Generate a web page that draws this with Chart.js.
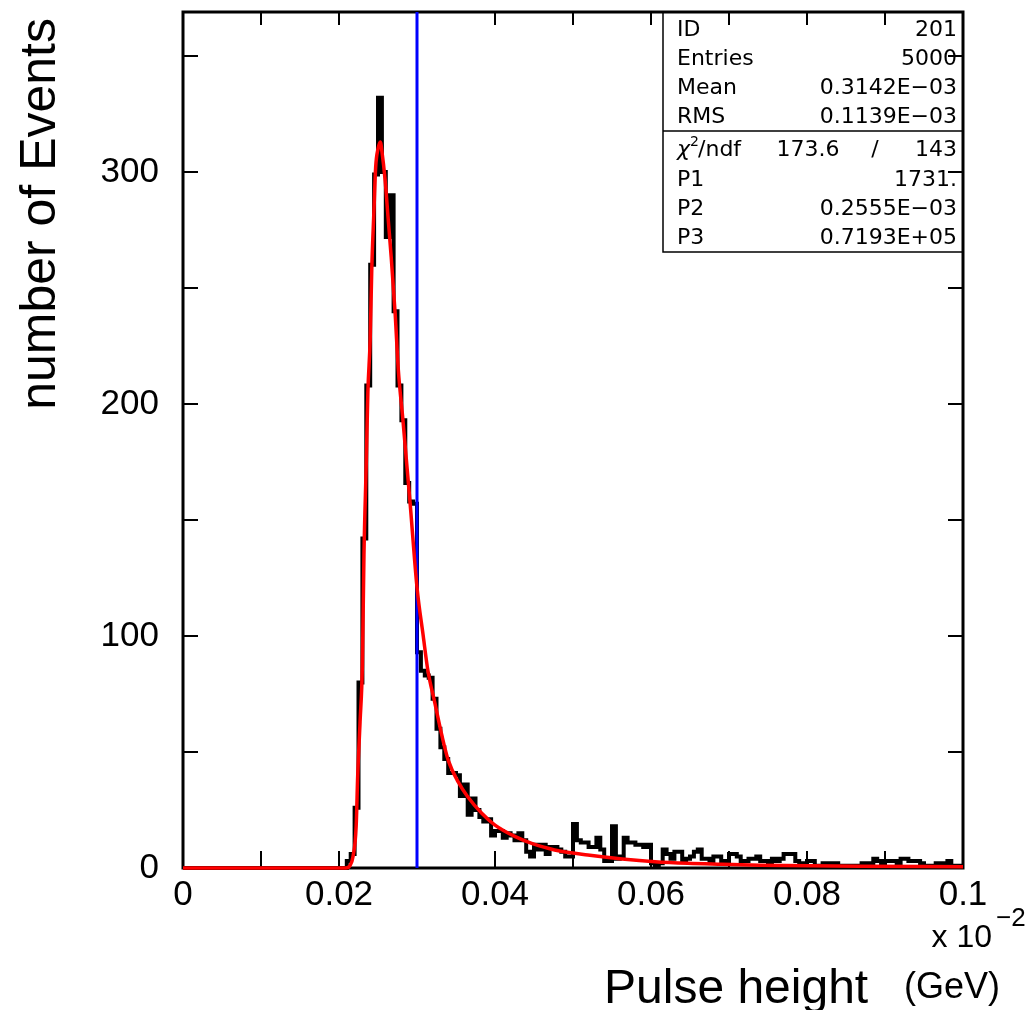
<!DOCTYPE html>
<html>
<head>
<meta charset="utf-8">
<script src="https://cdn.jsdelivr.net/npm/chart.js@4.4.1/dist/chart.umd.min.js"></script>
<style>
body{margin:0;background:#fff}
#wrap{width:1029px;height:1010px}
</style>
</head>
<body>
<div id="wrap"><canvas id="mycanvas" width="1029" height="1010"></canvas></div>
<script>
// histogram ID 201 : 200 bins from 0 to 0.1 (x 10^-2 GeV)
const binWidth = 0.0005;
const counts = [
  0,0,0,0,0,0,0,0,0,0, 0,0,0,0,0,0,0,0,0,0,
  0,0,0,0,0,0,0,0,0,0, 0,0,0,0,0,0,0,0,0,0,
  0,0,3,6,26,80,142,208,260,299,
  332,300,272,290,240,208,193,166,158,157,
  93,85,83,82,73,60,52,47,41,41,
  40,31,36,23,30,25,22,20,21,14,
  16,16,13,15,14,12,15,12,7,5,
  10,8,10,6,9,9,8,7,5,5,
  19,12,11,11,9,9,13,8,3,3,
  18,4,5,13,11,11,10,10,9,10,
  2,1,2,8,6,4,7,7,3,4,
  5,7,8,4,4,3,5,5,3,3,
  6,6,5,3,3,4,4,5,3,3,
  2,4,3,4,6,6,6,3,2,2,
  3,3,1,1,2,2,2,2,1,1,
  1,1,1,1,2,2,2,4,3,2,
  3,3,3,2,4,4,3,3,3,2,
  1,1,1,2,2,2,3,1,1,1
];

// fitted curve
const fitX = [0, 0.0209, 0.0214, 0.0218, 0.0222, 0.0224, 0.0227, 0.0230, 0.0232, 0.0235, 0.0237,
  0.0240, 0.0242, 0.0245, 0.0247, 0.0250, 0.0253, 0.0255, 0.0259, 0.0263, 0.0267, 0.0272,
  0.0276, 0.0282, 0.0291, 0.0300, 0.0308, 0.0314, 0.0323, 0.0332, 0.0340, 0.0353, 0.0365,
  0.0383, 0.0400, 0.0426, 0.0447, 0.0468, 0.0483, 0.0519, 0.0563, 0.0605, 0.0647, 0.0691,
  0.0740, 0.0868, 0.1000];
const fitY = [0, 0, 1, 5, 18, 40, 63, 88, 135, 175, 205,
  228, 258, 285, 302, 310, 313, 309, 297, 280, 263, 239,
  215, 193, 158, 121, 100, 85, 71, 57, 46.5, 37, 30.7,
  23.6, 18.5, 13.5, 10.6, 8.5, 7.3, 5.6, 3.9, 2.7, 2.0, 1.6,
  1.2, 0.8, 0.5];

const cutValue = 0.03;
const xMin = 0, xMax = 0.1, yMin = 0, yMax = 369;
const xTickVals = [0, 0.02, 0.04, 0.06, 0.08, 0.1];
const xTickLabels = ['0', '0.02', '0.04', '0.06', '0.08', '0.1'];
const yTickVals = [0, 100, 200, 300];
const yTickLabels = ['0', '100', '200', '300'];
const xMarks = [0.01, 0.02, 0.03, 0.04, 0.05, 0.06, 0.07, 0.08, 0.09];
const yMarks = [50, 100, 150, 200, 250, 300, 350];

const statNames = ['ID', 'Entries', 'Mean', 'RMS'];
const statValues = ['201', '5000', '0.3142E\u221203', '0.1139E\u221203'];
const fitNames = ['P1', 'P2', 'P3'];
const fitValues = ['1731.', '0.2555E\u221203', '0.7193E+05'];
const chi2 = '173.6', ndf = '143';

let histPts = [];
for (let i = 0; i < counts.length; i++) {
  histPts.push({x: i * binWidth, y: counts[i]});
}
histPts.push({x: counts.length * binWidth, y: counts[counts.length - 1]});

let fitPts = [];
for (let i = 0; i < fitX.length; i++) fitPts.push({x: fitX[i], y: fitY[i]});

const pawDeco = {
  id: 'pawDeco',
  beforeDatasetsDraw(chart) {
    const ctx = chart.ctx, a = chart.chartArea;
    const x = chart.scales.x, y = chart.scales.y;
    ctx.save();
    ctx.strokeStyle = '#000';
    ctx.lineWidth = 2;
    ctx.beginPath();
    xMarks.forEach(v => {
      const px = x.getPixelForValue(v);
      ctx.moveTo(px, a.bottom); ctx.lineTo(px, a.bottom - 17);
      ctx.moveTo(px, a.top); ctx.lineTo(px, a.top + 13);
    });
    yMarks.forEach(v => {
      const py = y.getPixelForValue(v);
      ctx.moveTo(a.left, py); ctx.lineTo(a.left + 15, py);
      ctx.moveTo(a.right, py); ctx.lineTo(a.right - 15, py);
    });
    ctx.stroke();
    ctx.lineWidth = 3;
    ctx.strokeRect(a.left, a.top, a.right - a.left, a.bottom - a.top);
    ctx.restore();
  },
  afterDraw(chart) {
    const ctx = chart.ctx, a = chart.chartArea;
    ctx.save();
    // stats box
    const bl = a.right - 300, bt = a.top, bb = a.top + 240, sep = a.top + 119;
    ctx.strokeStyle = '#000';
    ctx.lineWidth = 1.5;
    ctx.beginPath();
    ctx.moveTo(bl, bt); ctx.lineTo(bl, bb); ctx.lineTo(a.right, bb);
    ctx.moveTo(bl, sep); ctx.lineTo(a.right, sep);
    ctx.stroke();
    ctx.fillStyle = '#000';
    ctx.font = '22px "DejaVu Sans"';
    ctx.textBaseline = 'alphabetic';
    const lx = bl + 14, rx = a.right - 6;
    const rowsTop = [36, 65, 94, 123];
    statNames.forEach((n, i) => {
      ctx.textAlign = 'left'; ctx.fillText(n, lx, rowsTop[i]);
      ctx.textAlign = 'right'; ctx.fillText(statValues[i], rx, rowsTop[i]);
    });
    // chi2 row
    const cy = 156;
    ctx.textAlign = 'left';
    ctx.font = 'italic 22px "DejaVu Sans"';
    ctx.fillText('\u03c7', lx, cy);
    let w = ctx.measureText('\u03c7').width;
    ctx.font = '14px "DejaVu Sans"';
    ctx.fillText('2', lx + w, cy - 10);
    ctx.font = '22px "DejaVu Sans"';
    ctx.fillText('/ndf', lx + w + 8, cy);
    ctx.textAlign = 'center';
    ctx.fillText(chi2, bl + 145, cy);
    ctx.fillText('/', bl + 212, cy);
    ctx.textAlign = 'right';
    ctx.fillText(ndf, rx, cy);
    const rowsFit = [186, 215, 244];
    fitNames.forEach((n, i) => {
      ctx.textAlign = 'left'; ctx.fillText(n, lx, rowsFit[i]);
      ctx.textAlign = 'right'; ctx.fillText(fitValues[i], rx, rowsFit[i]);
    });
    // axis titles
    ctx.font = '50px "Liberation Sans"';
    ctx.save();
    ctx.translate(55, 18);
    ctx.rotate(-Math.PI / 2);
    ctx.textAlign = 'right';
    ctx.fillText('number of Events', 0, 0);
    ctx.restore();
    ctx.font = '48px "Liberation Sans"';
    ctx.textAlign = 'left';
    ctx.fillText('Pulse height', 604, 1003);
    ctx.font = '36px "Liberation Sans"';
    ctx.textAlign = 'right';
    ctx.fillText('(GeV)', 1000, 998);
    ctx.font = '32px "Liberation Sans"';
    ctx.fillText('x 10', 992, 947);
    ctx.font = '26px "Liberation Sans"';
    ctx.textAlign = 'left';
    ctx.fillText('\u22122', 996, 926);
    ctx.restore();
  }
};

const ctx = document.getElementById('mycanvas');
const chart = new Chart(ctx, {
  type: 'line',
  data: {
    datasets: [
      {
        label: 'fit',
        data: fitPts,
        borderColor: '#ff0000',
        borderWidth: 3.5,
        pointRadius: 0,
        cubicInterpolationMode: 'monotone',
        fill: false,
        clip: 6,
        order: 0
      },
      {
        label: 'cut',
        data: [{x: cutValue, y: yMin}, {x: cutValue, y: yMax}],
        borderColor: '#0000ff',
        borderWidth: 3,
        pointRadius: 0,
        fill: false,
        clip: 6,
        order: 1
      },
      {
        label: 'ID 201',
        data: histPts,
        borderColor: '#000000',
        borderWidth: 4,
        pointRadius: 0,
        stepped: 'before',
        fill: false,
        clip: 6,
        order: 2
      }
    ]
  },
  options: {
    responsive: false,
    animation: false,
    devicePixelRatio: 1,
    layout: {padding: {top: 12, right: 66, left: 0, bottom: 0}},
    plugins: {legend: {display: false}, tooltip: {enabled: false}},
    scales: {
      x: {
        type: 'linear', min: xMin, max: xMax,
        grid: {display: false, drawTicks: false},
        border: {display: false},
        ticks: {
          color: '#000', padding: 6, maxRotation: 0, autoSkip: false,
          font: {family: 'Liberation Sans', size: 35},
          callback: (v, i) => xTickLabels[i]
        },
        afterBuildTicks: s => { s.ticks = xTickVals.map(v => ({value: v})); },
        afterFit: s => { s.height = 142; s.paddingLeft = 0; s.paddingRight = 0; }
      },
      y: {
        type: 'linear', min: yMin, max: yMax,
        grid: {display: false, drawTicks: false},
        border: {display: false},
        ticks: {
          color: '#000', padding: 24, autoSkip: false,
          font: {family: 'Liberation Sans', size: 35},
          callback: (v, i) => yTickLabels[i]
        },
        afterBuildTicks: s => { s.ticks = yTickVals.map(v => ({value: v})); },
        afterFit: s => { s.width = 183; s.paddingTop = 0; s.paddingBottom = 0; }
      }
    }
  },
  plugins: [pawDeco]
});
</script>
</body>
</html>
